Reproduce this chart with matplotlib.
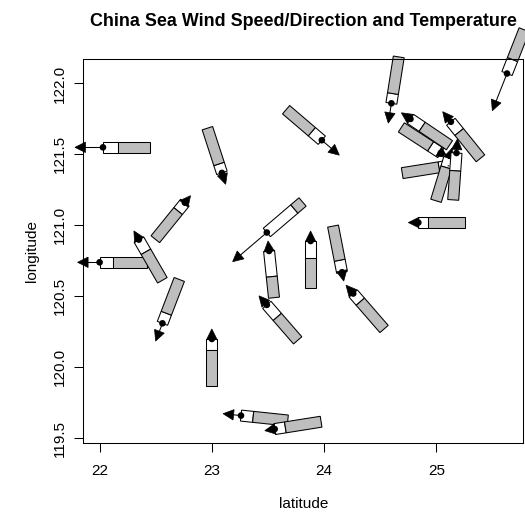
import numpy as np
import matplotlib.pyplot as plt
from matplotlib import transforms
from matplotlib.patches import Polygon, Circle

# station data
lat = [22.03, 22.00, 22.76, 22.35, 23.09, 23.98, 23.49, 23.51, 23.88, 24.16,
       24.26, 23.49, 22.56, 23.00, 23.26, 23.56, 24.60, 25.63, 24.77, 25.13,
       25.04, 25.11, 25.12, 25.18, 24.84]
lon = [121.55, 120.74, 121.16, 120.90, 121.37, 121.60, 120.95, 120.82, 120.89, 120.67,
       120.52, 120.44, 120.31, 120.20, 119.66, 119.565, 121.86, 122.07, 121.75, 121.73,
       121.51, 121.42, 121.49, 121.51, 121.02]
# direction the wind blows to, degrees counter-clockwise from east
wind_dir = [180, 180, 51, 120, 288, 319.5, 220.5, 96, 90, 281,
            131, 131, 249, 90, 174, 189, 261, 248.5, 146, 129,
            327, 9, 73, 86, 180]
# wind speed (arrow length, symbol units)
wind_speed = [28, 22, 9, 10, 12, 23, 45, 10, 10, 9,
              11, 12, 19, 10, 18, 10, 20, 40, 11, 13,
              8, 10, 8, 14, 10]
# temperature as filled fraction of the thermometer
temperature = [0.68, 0.72, 0.77, 0.70, 0.80, 0.72, 0.23, 0.45, 0.64, 0.74,
               0.77, 0.66, 0.77, 0.77, 0.74, 0.77, 0.79, 0.68, 0.70, 0.72,
               0.74, 0.79, 0.74, 0.62, 0.79]

W, H = 525, 516
fig = plt.figure(figsize=(W / 100, H / 100), dpi=100)
left, right, top, bottom = 83.3, 523.3, 59.3, 443.3
ax = fig.add_axes([left / W, 1 - bottom / H, (right - left) / W, (bottom - top) / H])

xr = max(lat) - min(lat)
yr = max(lon) - min(lon)
ax.set_xlim(min(lat) - 0.04 * xr, max(lat) + 0.04 * xr)
ax.set_ylim(min(lon) - 0.04 * yr, max(lon) + 0.04 * yr)

font = 'Liberation Sans'
fs = 11
ax.set_xticks([22, 23, 24, 25])
ax.set_xticklabels(['22', '23', '24', '25'], fontsize=fs, family=font)
yt = [119.5, 120.0, 120.5, 121.0, 121.5, 122.0]
ax.set_yticks(yt)
ax.set_yticklabels(['%.1f' % v for v in yt], fontsize=fs, family=font,
                   rotation=90, va='center')
ax.tick_params(axis='both', direction='out', length=6.5, width=0.75, color='black')
ax.tick_params(axis='x', pad=8.5)
ax.tick_params(axis='y', pad=5.5)
for s in ax.spines.values():
    s.set_linewidth(0.75)

L = 47.0   # thermometer length (px)
hw = 5.5   # half width
head_len, head_hw = 10.5, 5.2

px = transforms.Affine2D().scale(1 / 100) + fig.dpi_scale_trans
for i in range(len(lat)):
    tr = px + transforms.ScaledTranslation(lat[i], lon[i], ax.transData)
    a = np.deg2rad(wind_dir[i])
    d = np.array([np.cos(a), np.sin(a)])
    n = np.array([-d[1], d[0]])
    u = -d
    wl = L * (1 - temperature[i])

    def box(t0, t1):
        return [t0 * u + hw * n, t1 * u + hw * n, t1 * u - hw * n, t0 * u - hw * n]

    ax.add_patch(Polygon(box(0, wl), closed=True, facecolor='white', edgecolor='black',
                         lw=0.75, transform=tr, clip_on=False))
    ax.add_patch(Polygon(box(wl, L), closed=True, facecolor='#BEBEBE', edgecolor='black',
                         lw=0.75, transform=tr, clip_on=False))

    s = wind_speed[i]
    tip = s * d
    base = (s - head_len) * d
    ax.plot([0, base[0]], [0, base[1]], color='black', lw=0.75, transform=tr, clip_on=False)
    ax.add_patch(Polygon([tip, base + head_hw * n, base - head_hw * n], closed=True,
                         facecolor='black', edgecolor='black', lw=0.5,
                         transform=tr, clip_on=False))
    ax.add_patch(Circle((0, 0), 3.3, facecolor='black', edgecolor='none',
                        transform=tr, clip_on=False))

fig.text(303.3 / W, 1 - 22 / H, 'China Sea Wind Speed/Direction and Temperature',
         ha='center', va='center', fontsize=12.9, fontweight='bold', family=font)
fig.text(303.3 / W, 1 - 504 / H, 'latitude', ha='center', va='center',
         fontsize=fs, family=font)
fig.text(32 / W, 1 - 251 / H, 'longitude', ha='center', va='center',
         fontsize=fs, family=font, rotation=90)

fig.savefig('out.png', dpi=100)
